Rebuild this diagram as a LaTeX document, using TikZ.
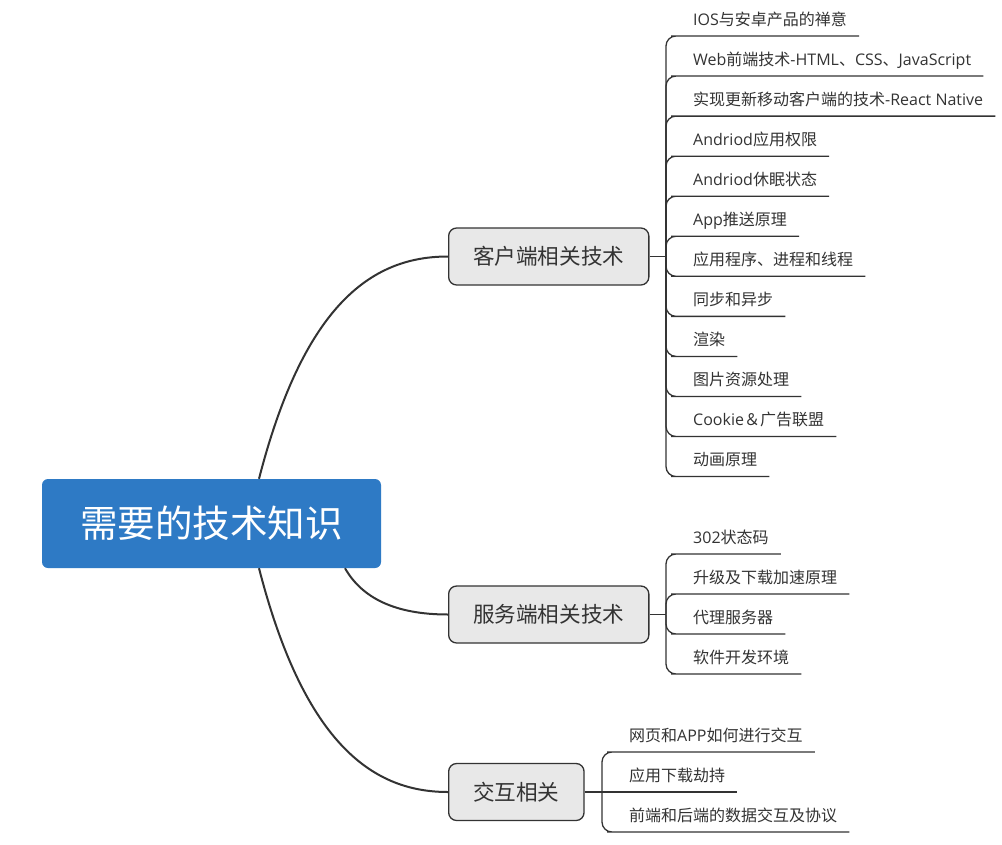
\documentclass[tikz,border=0pt]{standalone}
\usepackage{fontspec}
\setmainfont{Noto Sans CJK SC}
\newfontfamily\lat{Open Sans}
\definecolor{rootblue}{HTML}{2E7AC5}
\definecolor{boxgray}{HTML}{E8E8E8}
\definecolor{ink}{HTML}{333333}
\begin{document}
\begin{tikzpicture}[x=1pt,y=-1pt,
  rootbox/.style={draw=none, fill=rootblue, rounded corners=6pt, minimum width=339pt, minimum height=89pt, text=white, font=\fontsize{37.5}{40}\selectfont, inner sep=0pt},
  branchbox/.style={draw=ink, line width=1.3pt, fill=boxgray, rounded corners=8pt, minimum height=57pt, inner xsep=24.5pt, text=ink, font=\fontsize{21.6}{24}\selectfont, anchor=west},
  leaf/.style={anchor=south west, inner xsep=12pt, inner ysep=6.5pt, text height=12pt, text depth=4pt, text=ink, font=\fontsize{16}{18}\selectfont},
  curveline/.style={draw=ink, line width=2pt},
  stemline/.style={draw=ink, line width=1.8pt},
  leafline/.style={draw=ink, line width=1.3pt, rounded corners=10pt},
]
\fill[white] (0,0) rectangle (1002,844);
\useasboundingbox (0,0) rectangle (1002,844);

% root and branches
\node[rootbox] (root) at (211.5,523.5) {需要的技术知识};
\node[branchbox] (b1) at (448,256.5) {客户端相关技术};
\node[branchbox] (b2) at (448,614.5) {服务端相关技术};
\node[branchbox] (b3) at (448,792) {交互相关};

\coordinate (j1) at (666,256.5);
\coordinate (j2) at (666,614.5);
\coordinate (j3) at (602,792);

% client leaves
\node[leaf] (c1) at (681,36) {{\lat IOS}与安卓产品的禅意};
\node[leaf] (c2) at (681,76.05) {{\lat Web}前端技术{\lat -HTML}、{\lat CSS}、{\lat JavaScript}};
\node[leaf] (c3) at (681,116.1) {实现更新移动客户端的技术{\lat -React Native}};
\node[leaf] (c4) at (681,156.15) {{\lat Andriod}应用权限};
\node[leaf] (c5) at (681,196.2) {{\lat Andriod}休眠状态};
\node[leaf] (c6) at (681,236.25) {{\lat App}推送原理};
\node[leaf] (c7) at (681,276.3) {应用程序、进程和线程};
\node[leaf] (c8) at (681,316.35) {同步和异步};
\node[leaf] (c9) at (681,356.4) {渲染};
\node[leaf] (c10) at (681,396.45) {图片资源处理};
\node[leaf] (c11) at (681,436.5) {{\lat Cookie}＆广告联盟};
\node[leaf] (c12) at (681,476.55) {动画原理};

% server leaves
\node[leaf] (s1) at (681,554) {{\lat 302}状态码};
\node[leaf] (s2) at (681,594) {升级及下载加速原理};
\node[leaf] (s3) at (681,634) {代理服务器};
\node[leaf] (s4) at (681,674) {软件开发环境};

% interaction leaves
\node[leaf] (i1) at (617,752) {网页和{\lat APP}如何进行交互};
\node[leaf] (i2) at (617,792) {应用下载劫持};
\node[leaf] (i3) at (617,832) {前端和后端的数据交互及协议};

% root to branches
\draw[curveline] ([xshift=47.5pt]root.north) .. controls (305,300) and (375,256.5) .. (b1.west);
\draw[curveline] ([xshift=133.5pt]root.south) .. controls (362,598) and (395,614.5) .. (b2.west);
\draw[curveline] ([xshift=47.5pt]root.south) .. controls (305,747) and (375,792) .. (b3.west);

% stems
\draw[stemline] (b1.east) -- (j1);
\draw[stemline] (b2.east) -- (j2);
\draw[stemline] (b3.east) -- (j3);

% leaf connectors
\foreach \n in {c1,c2,c3,c4,c5,c6,c7,c8,c9,c10,c11,c12}
  \draw[leafline] (j1) |- (\n.south west) -- (\n.south east);
\foreach \n in {s1,s2,s3,s4}
  \draw[leafline] (j2) |- (\n.south west) -- (\n.south east);
\foreach \n in {i1,i3}
  \draw[leafline] (j3) |- (\n.south west) -- (\n.south east);
\draw[leafline] (j3) -- (i2.south west) -- (i2.south east);
\end{tikzpicture}
\end{document}
